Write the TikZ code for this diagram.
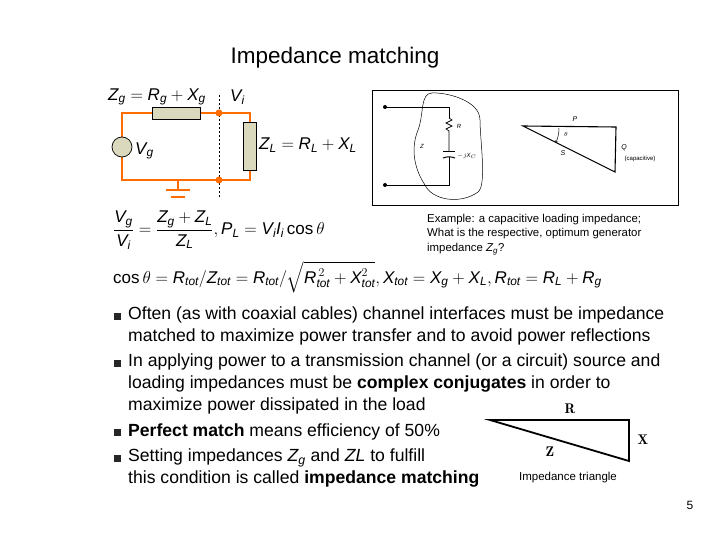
\documentclass[tikz,border=0pt]{standalone}
\usepackage{fontspec}
\setmainfont{Liberation Sans}
\usepackage{amsmath}
\begin{document}
\newcommand{\vi}[1]{\textit{#1}}
\begin{tikzpicture}[x=1pt,y=-1pt,
  wire/.style={draw=orange!85!red,line width=2.8pt},
  part/.style={draw=black,fill=brown!15!yellow!30!gray!40,line width=0.7pt},
  bul/.style={fill=black!85,minimum size=7pt,inner sep=0pt},
  btxt/.style={anchor=west,font=\fontsize{17.6}{19}\selectfont,inner sep=0pt},
  eq/.style={anchor=west,inner sep=0pt,font=\fontsize{17}{19}\selectfont}]
\useasboundingbox (0,0) rectangle (720,540);
\node (title) at (335,58) {\fontsize{22.5}{24}\selectfont Impedance matching};
% circuit
\draw[wire] (122,137) -- (122,113) -- (250,113) -- (250,122);
\draw[wire] (250,170) -- (250,180) -- (122,180) -- (122,157);
\draw[wire] (178,180) -- (178,190);
\draw[wire] (166,190) -- (190,190);
\draw[wire] (171,197) -- (185,197);
\node[part,minimum width=48pt,minimum height=12pt,inner sep=0pt] (rg) at (176,113) {};
\node[part,minimum width=13pt,minimum height=48pt,inner sep=0pt] (zl) at (250,146) {};
\node[part,circle,minimum size=20pt,inner sep=0pt] (src) at (122,147) {};
\draw[dash pattern=on 2pt off 2pt] (219,95) -- (219,198);
\fill[orange!85!red] (219,113) circle (3.5pt) (219,180) circle (3.5pt);
\node[eq,anchor=west] (zg) at (108,97) {$\vi{Z}_{\vi{g}}=\vi{R}_{\vi{g}}+\vi{X}_{\vi{g}}$};
\node[eq] (vi) at (230,97) {$\vi{V}_{\vi{i}}$};
\node[eq] (vg) at (135,151) {$\vi{V}_{\vi{g}}$};
\node[eq] (zlt) at (259,145) {$\vi{Z}_{\vi{L}}=\vi{R}_{\vi{L}}+\vi{X}_{\vi{L}}$};
% equations
\node[eq] (e1) at (113,230) {$\dfrac{\vi{V}_{\vi{g}}}{\vi{V}_{\vi{i}}}=\dfrac{\vi{Z}_{\vi{g}}+\vi{Z}_{\vi{L}}}{\vi{Z}_{\vi{L}}},\vi{P}_{\vi{L}}=\vi{V}_{\vi{i}}\vi{I}_{\vi{i}}\cos\theta$};
\node[eq] (e2) at (113,277) {$\cos\theta=\vi{R}_{\vi{tot}}/\vi{Z}_{\vi{tot}}=\vi{R}_{\vi{tot}}/\sqrt{\vi{R}_{\vi{tot}}^{\,2}+\vi{X}_{\vi{tot}}^{2}},\vi{X}_{\vi{tot}}=\vi{X}_{\vi{g}}+\vi{X}_{\vi{L}},\vi{R}_{\vi{tot}}=\vi{R}_{\vi{L}}+\vi{R}_{\vi{g}}$};
% picture box
\draw[line width=0.8pt] (372,90) rectangle (678,205);
\fill (385,107) circle (2pt) (385,185) circle (2pt);
\draw[line width=0.8pt] (385,107) -- (449,107) -- (449,118);
\draw[line width=0.7pt] (449,118) -- (452,120) -- (446,123) -- (452,126) -- (446,129) -- (449,131) -- (449,152);
\draw[line width=1pt] (443,152) -- (455,152);
\draw[line width=1pt] (443,158) to[bend left=20] (455,158);
\draw[line width=0.8pt] (449,157) -- (449,185) -- (385,185);
\draw[line width=0.5pt] (432,93) .. controls (420,93) and (424,115) .. (418,130)
  .. controls (410,150) and (415,170) .. (425,185) .. controls (432,200) and (460,205) .. (478,192)
  .. controls (487,185) and (480,140) .. (480,120) .. controls (480,100) and (445,92) .. (432,93);
\node[font=\fontsize{6}{7}\selectfont,inner sep=0pt] (rl) at (459,126) {\vi{R}};
\node[font=\fontsize{6}{7}\selectfont,inner sep=0pt] (zz) at (422,146) {\vi{Z}};
\node[font=\fontsize{6}{7}\selectfont,inner sep=0pt] (xc) at (467,156) {$-j\vi{X}_C$};
\coordinate (ta) at (523,126);
\coordinate (tb) at (616,127);
\coordinate (tc) at (615,172);
\draw[line width=1.1pt] (ta) -- (tb) -- (tc) -- cycle;
\draw[line width=0.5pt,->] (559,128) arc[start angle=0,end angle=-24,radius=36pt];
\node[font=\fontsize{7}{8}\selectfont,inner sep=0pt] (pp) at (575,119) {\vi{P}};
\node[font=\fontsize{6}{7}\selectfont,inner sep=0pt] (th) at (566,134) {$\theta$};
\node[font=\fontsize{7}{8}\selectfont,inner sep=0pt] (ss) at (563,153) {\vi{S}};
\node[font=\fontsize{7}{8}\selectfont,inner sep=0pt] (qq) at (624,148) {\vi{Q}};
\node[font=\fontsize{6}{7}\selectfont,inner sep=0pt] (cap) at (640,159) {(capacitive)};
% example text
\node[anchor=north west,align=left,inner sep=0pt,font=\fontsize{11.4}{14.5}\selectfont] (ex) at (427,214) {Example: a capacitive loading impedance;\\What is the respective, optimum generator\\impedance $\vi{Z}_{\vi{g}}$?};
% bullets
\node[bul] (b1) at (117,316) {};
\node[bul] (b2) at (117,363) {};
\node[bul] (b3) at (117,432) {};
\node[bul] (b4) at (117,458) {};
\node[btxt] (t1) at (128,315) {Often (as with coaxial cables) channel interfaces must be impedance};
\node[btxt] (t1b) at (128,337) {matched to maximize power transfer and to avoid power reflections};
\node[btxt] (t2) at (128,362) {In applying power to a transmission channel (or a circuit) source and};
\node[btxt] (t2b) at (128,384) {loading impedances must be \textbf{complex conjugates} in order to};
\node[btxt] (t2c) at (128,406) {maximize power dissipated in the load};
\node[btxt] (t3) at (128,432) {\textbf{Perfect match} means efficiency of 50\%};
\node[btxt] (t4) at (128,458) {Setting impedances $\vi{Z}_{\vi{g}}$ and $\vi{Z}\vi{L}$ to fulfill};
\node[btxt] (t4b) at (128,479) {this condition is called \textbf{impedance matching}};
% impedance triangle
\coordinate (ia) at (490,420);
\coordinate (ib) at (629,420);
\coordinate (ic) at (629,461);
\draw[line width=1.8pt] (ia) -- (ib) -- (ic) -- cycle;
\node[font=\fontfamily{lmr}\fontsize{14}{14}\selectfont\bfseries] (R) at (570,409) {R};
\node[font=\fontfamily{lmr}\fontsize{14}{14}\selectfont\bfseries] (X) at (643,440) {X};
\node[font=\fontfamily{lmr}\fontsize{14}{14}\selectfont\bfseries] (Z) at (550,452) {Z};
\node[font=\fontsize{11.5}{12}\selectfont] (it) at (568,478) {Impedance triangle};
\node[font=\fontsize{12}{13}\selectfont] (pg) at (690,505) {5};
\end{tikzpicture}
\end{document}
